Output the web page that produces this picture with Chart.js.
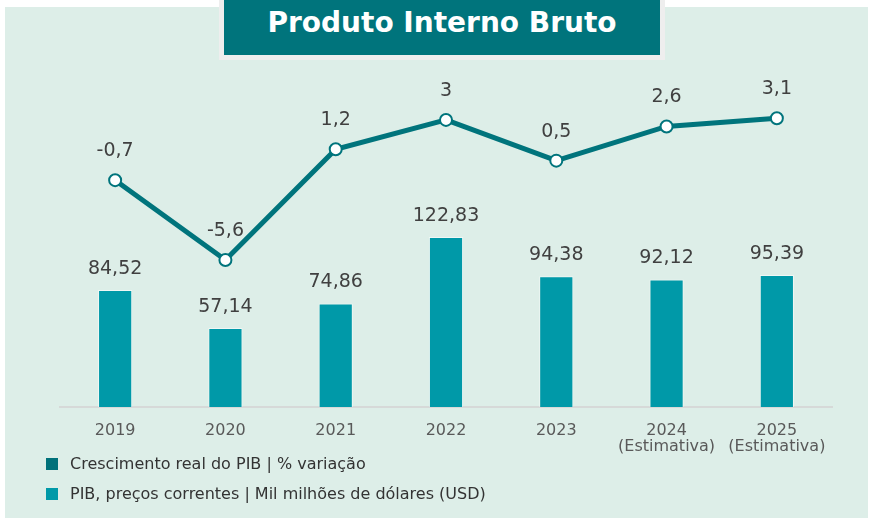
<!DOCTYPE html>
<html>
<head>
<meta charset="utf-8">
<script src="https://cdn.jsdelivr.net/npm/chart.js@4/dist/chart.umd.min.js"></script>
<style>
  body { margin: 0; background: #fff; }
  #wrap { position: relative; width: 872px; height: 522px; }
  #panel { position: absolute; left: 5px; top: 7px; width: 863px; height: 511px; background: #ddeee8; }
  #chart { position: absolute; left: 0; top: 0; }
  #title { position: absolute; left: 219px; top: 0; width: 436px; height: 55px; background: #00747c;
    border: 5px solid #eeeeee; border-top: none; color: #fff; font: bold 28px "DejaVu Sans", sans-serif;
    text-align: center; line-height: 46px; }
  .leg { position: absolute; left: 46px; font: 16px "DejaVu Sans", sans-serif; color: #333; }
  .leg span { display: inline-block; width: 12px; height: 12px; margin-right: 12px; vertical-align: -1px; }
</style>
</head>
<body>
<div id="wrap">
  <div id="panel"></div>
  <canvas id="chart" width="872" height="522"></canvas>
  <div id="title">Produto Interno Bruto</div>
  <div class="leg" style="top:454px"><span style="background:#00717a"></span>Crescimento real do PIB | % variação</div>
  <div class="leg" style="top:484px"><span style="background:#0099a8"></span>PIB, preços correntes | Mil milhões de dólares (USD)</div>
</div>
<script>
// categories
var years = [['2019'], ['2020'], ['2021'], ['2022'], ['2023'], ['2024', '(Estimativa)'], ['2025', '(Estimativa)']];
// real growth, %
var growth = [-0.7, -5.6, 1.2, 3, 0.5, 2.6, 3.1];
// GDP, current prices, billion USD
var gdp = [84.52, 57.14, 74.86, 122.83, 94.38, 92.12, 95.39];

var fmt = function (v, d) { return v.toFixed(d).replace('.', ','); };

// value labels above bars and points
var labelPlugin = {
  id: 'valueLabels',
  afterDatasetsDraw: function (chart) {
    var ctx = chart.ctx;
    ctx.save();
    ctx.font = '19px "DejaVu Sans", sans-serif';
    ctx.fillStyle = '#404040';
    ctx.textAlign = 'center';
    ctx.textBaseline = 'middle';
    chart.data.datasets.forEach(function (ds, i) {
      var meta = chart.getDatasetMeta(i);
      meta.data.forEach(function (el, j) {
        var v = ds.data[j];
        if (ds.type === 'line') {
          ctx.fillText(Number.isInteger(v) ? String(v) : fmt(v, 1), el.x, el.y - 29);
        } else {
          ctx.fillText(fmt(v, 2), el.x, el.y - 21);
        }
      });
    });
    ctx.restore();
  }
};

new Chart(document.getElementById('chart'), {
  data: {
    labels: years,
    datasets: [{
      type: 'line',
      label: 'Crescimento real do PIB | % variação',
      data: growth,
      yAxisID: 'yLine',
      order: 0,
      borderColor: '#00747c',
      borderWidth: 5,
      pointRadius: 6,
      pointBackgroundColor: '#fff',
      pointBorderColor: '#00747c',
      pointBorderWidth: 2,
      tension: 0
    }, {
      type: 'bar',
      label: 'PIB, preços correntes | Mil milhões de dólares (USD)',
      data: gdp,
      yAxisID: 'yBar',
      order: 1,
      backgroundColor: '#0099a8',
      borderColor: 'rgba(255,255,255,0.55)',
      borderWidth: 1,
      categoryPercentage: 0.31,
      barPercentage: 1
    }]
  },
  options: {
    responsive: false,
    animation: false,
    layout: { padding: { top: 60, left: 60, right: 40, bottom: 55 } },
    plugins: { legend: { display: false }, tooltip: { enabled: false } },
    scales: {
      x: {
        grid: { display: false },
        border: { display: true, color: '#d6d9d8', width: 2 },
        ticks: { color: '#595959', font: { family: 'DejaVu Sans', size: 16, lineHeight: 1.05 }, padding: 7, maxRotation: 0 },
        afterFit: function (s) { s.height = 60; }
      },
      yBar: { display: false, min: 0, max: 250.7 },
      yLine: { display: false, min: -14.63, max: 6.68 }
    }
  },
  plugins: [labelPlugin]
});
</script>
</body>
</html>
